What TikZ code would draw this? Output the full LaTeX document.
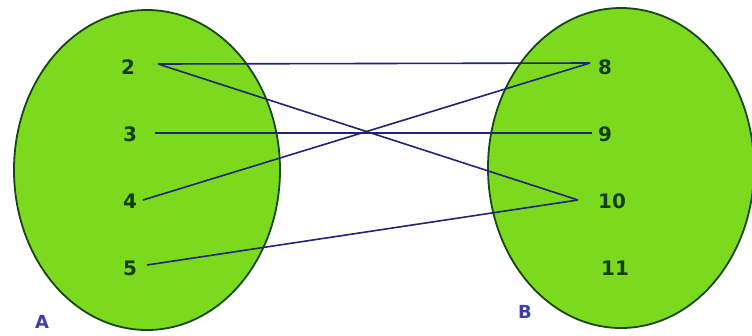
\documentclass[tikz,border=0pt]{standalone}
\usepackage{fontspec}
\setmainfont{DejaVu Sans}
\begin{document}
\begin{tikzpicture}[x=1bp,y=-1bp,
  setshape/.style={draw=setedge,fill=setfill,line width=1.8bp},
  num/.style={text=numcol,font=\fontsize{20}{20}\selectfont\bfseries,inner sep=0pt},
  setname/.style={text=namecol,font=\fontsize{18}{18}\selectfont\bfseries,inner sep=0pt},
  map/.style={draw=linecol,line width=1.6bp}]
\definecolor{setfill}{RGB}{124,218,30}
\definecolor{setedge}{RGB}{25,70,20}
\definecolor{numcol}{RGB}{22,60,22}
\definecolor{namecol}{RGB}{60,60,170}
\definecolor{linecol}{RGB}{35,35,120}
\useasboundingbox (0,0) rectangle (752,335);
\fill[white] (0,0) rectangle (752,335);
\draw[setshape] (147,170) ellipse [x radius=133, y radius=160];
\draw[setshape] (621,168) ellipse [x radius=133, y radius=160];
\node[num] (n2) at (128,67) {2};
\node[num] (n3) at (130,134) {3};
\node[num] (n4) at (130,201) {4};
\node[num] (n5) at (130,268) {5};
\node[num] (n8) at (605,67) {8};
\node[num] (n9) at (605,134) {9};
\node[num] (n10) at (612,201) {10};
\node[num] (n11) at (615,268) {11};
\node[setname] (A) at (42,322) {A};
\node[setname] (B) at (525,312) {B};
\coordinate (s2) at (158,64);
\coordinate (s3) at (155,133);
\coordinate (s4) at (143,200);
\coordinate (s5) at (147,265);
\coordinate (e8) at (590,63);
\coordinate (e9) at (592,133);
\coordinate (e10) at (578,200);
\draw[map] (s2) -- (e8);
\draw[map] (s2) -- (e10);
\draw[map] (s3) -- (e9);
\draw[map] (s4) -- (e8);
\draw[map] (s5) -- (e10);
\end{tikzpicture}
\end{document}
